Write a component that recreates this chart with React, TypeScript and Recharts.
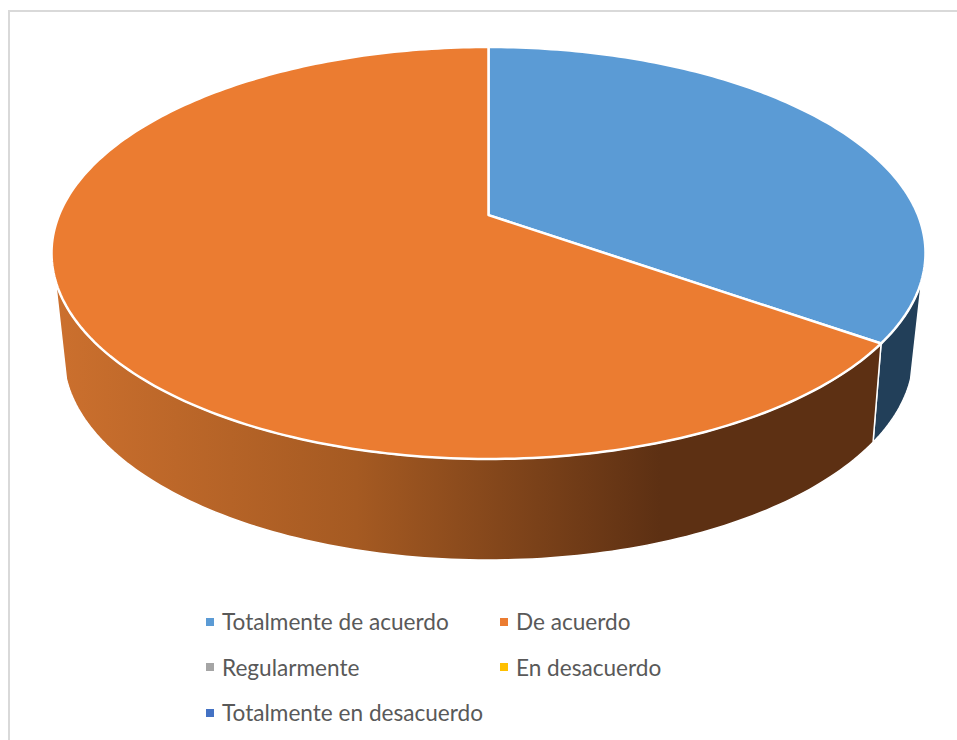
import { PieChart, Pie, Legend } from "recharts";

const categories = [
  "Totalmente de acuerdo",
  "De acuerdo",
  "Regularmente",
  "En desacuerdo",
  "Totalmente en desacuerdo",
];
const values = [8, 15, 0, 0, 0];
const colors = ["#5B9BD5", "#EB7C31", "#A5A5A5", "#FFC000", "#4472C4"];

const data = categories.map((name, i) => ({ name, value: values[i], fill: colors[i] }));

// tilted-disc projection of the pie: top face and the rim below it
const TILT = 206 / 437;
const TOP_SKEW = -0.184;
const RIM_SKEW = -0.2;
const RIM_DROP = 102;
const RIM_RX = 425 / 437;
const RIM_RY = 205 / 437;
const RIM_FROM = 108;
const RIM_TO = 252;

const project = (deg: number, cx: number, cy: number, rx: number, ry: number, skew: number) => {
  const a = (deg * Math.PI) / 180;
  const X = Math.sin(a);
  const Y = -Math.cos(a);
  const d = 1 + skew * Y;
  return [cx + (rx * X * Math.sqrt(1 - skew * skew)) / d, cy + (ry * (Y + skew)) / d];
};

const arcPoints = (from: number, to: number, f: (deg: number) => number[]) => {
  const pts: number[][] = [];
  const n = Math.max(2, Math.ceil(to - from));
  for (let i = 0; i <= n; i++) pts.push(f(from + ((to - from) * i) / n));
  return pts;
};

const toPath = (pts: number[][]) =>
  "M" + pts.map((p) => `${p[0].toFixed(2)},${p[1].toFixed(2)}`).join("L") + "Z";

function DiscSlice(props: any) {
  const { cx, cy, outerRadius, startAngle, endAngle, fill } = props;
  const from = 90 - startAngle;
  const to = 90 - endAngle;
  if (to - from <= 0) return null;

  const ry = outerRadius * TILT;
  const top = (deg: number) => project(deg, cx, cy, outerRadius, ry, TOP_SKEW);
  const rim = (deg: number) =>
    project(deg, cx, cy + RIM_DROP, outerRadius * RIM_RX, outerRadius * RIM_RY, RIM_SKEW);

  const face = [[cx, cy + ry * TOP_SKEW], ...arcPoints(from, to, top)];
  const wallFrom = Math.max(from, RIM_FROM);
  const wallTo = Math.min(to, RIM_TO);
  const wall =
    wallTo > wallFrom
      ? [...arcPoints(wallFrom, wallTo, top), ...arcPoints(wallFrom, wallTo, rim).reverse()]
      : null;
  const wallFill = fill === colors[0] ? "#223F59" : "url(#rimShade)";

  return (
    <g>
      {wall && <path d={toPath(wall)} fill={wallFill} stroke="#fff" strokeWidth={1.5} strokeLinejoin="round" />}
      <path d={toPath(face)} fill={fill} stroke="#fff" strokeWidth={2.5} strokeLinejoin="round" />
    </g>
  );
}

function LegendGrid({ payload }: any) {
  return (
    <div style={{ display: "flex", flexWrap: "wrap", width: 600 }}>
      {(payload || []).map((entry: any) => (
        <div
          key={entry.value}
          style={{ width: entry.value === categories[4] ? 588 : 294, height: 45.5, display: "flex", alignItems: "center" }}
        >
          <span style={{ width: 8, height: 8, marginLeft: 8, marginRight: 8, background: entry.color }} />
          <span style={{ fontFamily: "Lato", fontSize: 22.6, color: "#595959", whiteSpace: "nowrap" }}>
            {entry.value}
          </span>
        </div>
      ))}
    </div>
  );
}

export default function App() {
  return (
    <div style={{ position: "absolute", left: 0, top: 0, width: 957, height: 740, overflow: "hidden", background: "#fff" }}>
      <div
        style={{
          position: "absolute",
          left: 8,
          top: 10,
          width: 949,
          height: 730,
          borderTop: "2px solid #D9D9D9",
          borderLeft: "2px solid #D9D9D9",
          boxSizing: "border-box",
        }}
      />
      <PieChart
        width={957}
        height={740}
        margin={{ top: 0, right: 0, bottom: 0, left: 0 }}
        style={{ position: "absolute", left: 0, top: 0 }}
      >
        <defs>
          <linearGradient id="rimShade" gradientUnits="userSpaceOnUse" x1={52} y1={0} x2={660} y2={0}>
            <stop offset="0%" stopColor="#CC702E" />
            <stop offset="50%" stopColor="#A55A22" />
            <stop offset="100%" stopColor="#5D3013" />
          </linearGradient>
        </defs>
        <Pie
          data={data}
          dataKey="value"
          nameKey="name"
          cx={488.5}
          cy={253}
          outerRadius={437}
          startAngle={90}
          endAngle={-270}
          stroke="none"
          shape={DiscSlice}
          isAnimationActive={false}
        />
        <Legend
          content={LegendGrid}
          itemSorter={null}
          wrapperStyle={{ left: 198, top: 599, width: 600, bottom: "auto" }}
        />
      </PieChart>
    </div>
  );
}
